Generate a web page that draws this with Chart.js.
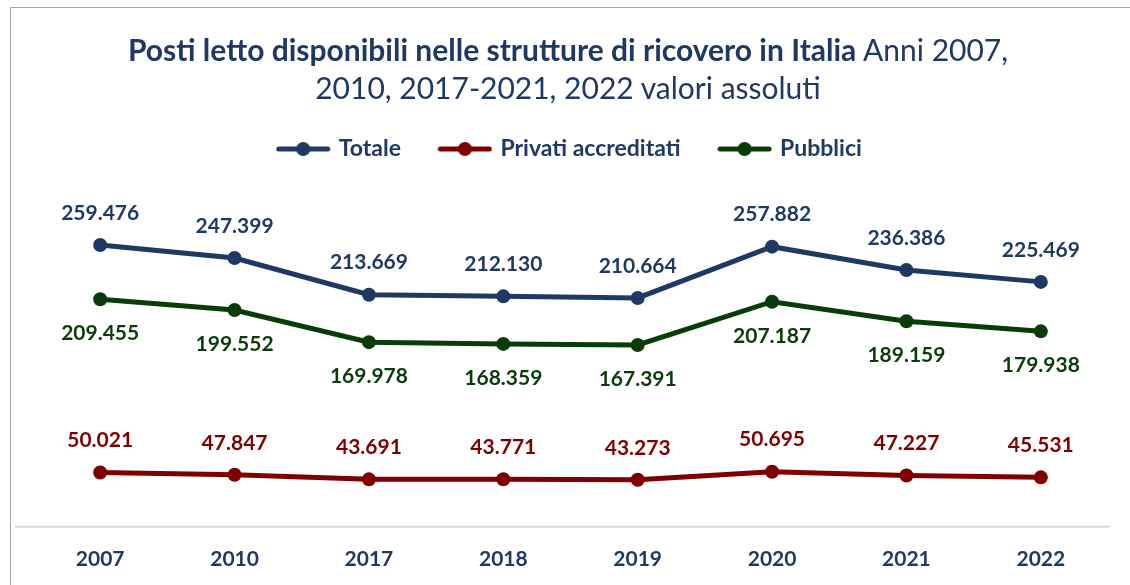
<!DOCTYPE html>
<html>
<head>
<meta charset="utf-8">
<script src="https://cdn.jsdelivr.net/npm/chart.js@4.4.0/dist/chart.umd.min.js"></script>
<style>
    body { margin: 0; background: #fff; }
    #wrap { position: relative; width: 1130px; height: 585px; overflow: hidden; }
    #frame { position: absolute; left: 10px; top: 7px; width: 1200px; height: 700px; border-top: 1px solid #a6a6a6; border-left: 1px solid #a6a6a6; }
    #titolo { position: absolute; left: 0; top: 30px; width: 1136px; text-align: center; font-family: Lato, sans-serif; font-size: 30px; line-height: 38px; color: #203864; }
    #titolo b { font-weight: 700; }
    canvas { position: absolute; left: 0; top: 0; }
</style>
</head>
<body>
<div id="wrap">
    <div id="frame"></div>
    <canvas id="lineChartPosti" width="1130" height="585"></canvas>
    <div id="titolo"><b>Posti letto disponibili nelle strutture di ricovero in Italia</b> Anni 2007,<br>2010, 2017-2021, 2022 valori assoluti</div>
</div>
<script>
// dati
const anni = ['2007', '2010', '2017', '2018', '2019', '2020', '2021', '2022'];
const totale = [259476, 247399, 213669, 212130, 210664, 257882, 236386, 225469];
const privati = [50021, 47847, 43691, 43771, 43273, 50695, 47227, 45531];
const pubblici = [209455, 199552, 169978, 168359, 167391, 207187, 189159, 179938];
const nomiSerie = ['Totale', 'Privati accreditati', 'Pubblici'];
const coloriSerie = ['#203864', '#800000', '#0a3c0a'];

const fontBase = 'Lato';
const blu = '#203864';

// 259476 -> "259.476"
function formatta(v) {
    return String(Math.round(v)).replace(/\B(?=(\d{3})+(?!\d))/g, '.');
}

// icona legenda: linea con pallino
function iconaLegenda(colore) {
    const c = document.createElement('canvas');
    c.width = 55;
    c.height = 16;
    const g = c.getContext('2d');
    g.strokeStyle = colore;
    g.lineWidth = 5;
    g.lineCap = 'round';
    g.beginPath();
    g.moveTo(3, 8);
    g.lineTo(52, 8);
    g.stroke();
    g.fillStyle = colore;
    g.beginPath();
    g.arc(27.5, 8, 7, 0, Math.PI * 2);
    g.fill();
    return c;
}
const icone = coloriSerie.map(iconaLegenda);

// etichette valori sopra / sotto i punti
const spostamenti = [-32, -32, 34];
const etichettePlugin = {
    id: 'etichette',
    afterDatasetsDraw(chart) {
        const ctx = chart.ctx;
        ctx.save();
        ctx.font = '700 21px ' + fontBase;
        ctx.textAlign = 'center';
        ctx.textBaseline = 'middle';
        chart.data.datasets.forEach((ds, i) => {
            const meta = chart.getDatasetMeta(i);
            ctx.fillStyle = coloriSerie[i];
            meta.data.forEach((pt, j) => {
                ctx.fillText(formatta(ds.data[j]), pt.x, pt.y + spostamenti[i]);
            });
        });
        ctx.restore();
    }
};

// linea di base grigia
const basePlugin = {
    id: 'base',
    beforeDatasetsDraw(chart) {
        const ctx = chart.ctx;
        const y = chart.scales.y.getPixelForValue(0);
        ctx.save();
        ctx.strokeStyle = '#d9d9d9';
        ctx.lineWidth = 2;
        ctx.beginPath();
        ctx.moveTo(15, y);
        ctx.lineTo(1110, y);
        ctx.stroke();
        ctx.restore();
    }
};

function creaGrafico() {
    let ctxPosti = document.getElementById('lineChartPosti');
    if (!ctxPosti) return;
    ctxPosti = ctxPosti.getContext('2d');

    new Chart(ctxPosti, {
        type: 'line',
        data: {
            labels: anni,
            datasets: [totale, privati, pubblici].map((serie, i) => ({
                label: nomiSerie[i],
                data: serie,
                borderColor: coloriSerie[i],
                backgroundColor: coloriSerie[i],
                borderWidth: 5,
                pointRadius: 7,
                pointHoverRadius: 7,
                pointBorderWidth: 0,
                tension: 0
            }))
        },
        options: {
            responsive: false,
            animation: false,
            layout: {
                padding: { top: 97.5, left: 33, right: 22, bottom: -7 }
            },
            scales: {
                x: {
                    offset: true,
                    grid: { display: false, drawTicks: false },
                    border: { display: false },
                    ticks: {
                        padding: 20,
                        color: blu,
                        font: { family: fontBase, size: 21, weight: 700 }
                    }
                },
                y: {
                    display: false,
                    min: 0,
                    max: 328000
                }
            },
            plugins: {
                tooltip: { enabled: false },
                legend: {
                    position: 'top',
                    labels: {
                        usePointStyle: true,
                        pointStyleWidth: 48,
                        padding: 40,
                        color: blu,
                        font: { family: fontBase, size: 23, weight: 700 },
                        generateLabels: (chart) => chart.data.datasets.map((ds, i) => ({
                            text: ds.label,
                            pointStyle: icone[i],
                            fontColor: blu,
                            datasetIndex: i,
                            hidden: false,
                            lineWidth: 0
                        }))
                    }
                }
            }
        },
        plugins: [etichettePlugin, basePlugin]
    });
}

Promise.all([
    document.fonts.load('700 21px Lato'),
    document.fonts.load('400 21px Lato')
]).then(creaGrafico, creaGrafico);
</script>
</body>
</html>
